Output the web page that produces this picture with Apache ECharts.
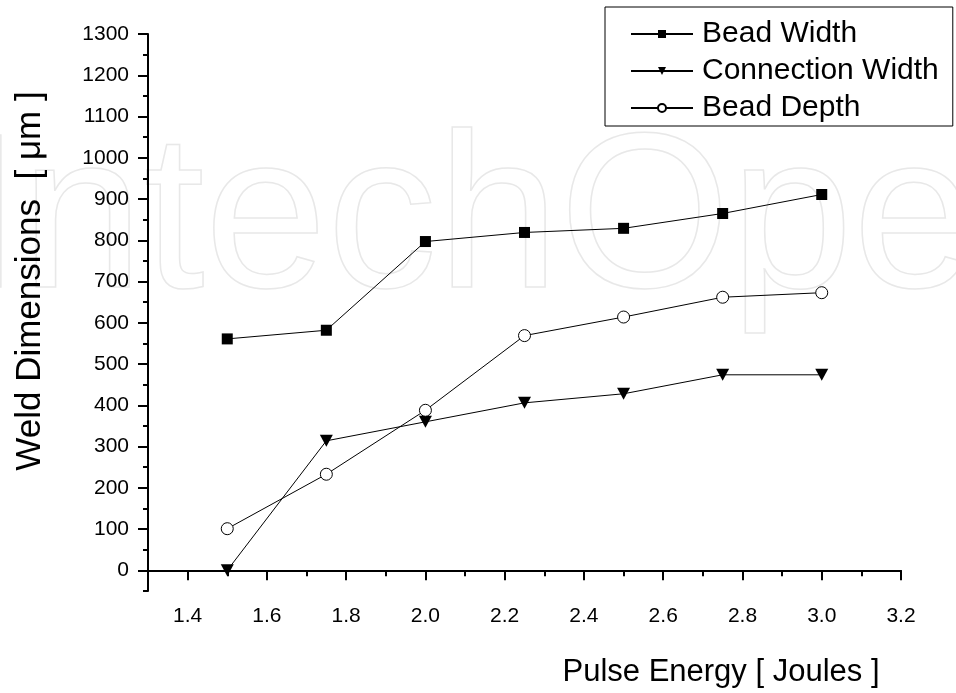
<!DOCTYPE html>
<html><head><meta charset="utf-8">
<script src="https://cdn.jsdelivr.net/npm/echarts@6/dist/echarts.min.js"></script>
<style>html,body{margin:0;padding:0;background:#fff}#c{width:956px;height:693px}</style>
</head><body><div id="c"></div>
<script>
const energy = [1.5, 1.75, 2.0, 2.25, 2.5, 2.75, 3.0];
const beadWidth = [561, 582, 797, 819, 829, 865, 911];
const connectionWidth = [0, 314, 360, 406, 428, 474, 474];
const beadDepth = [101, 233, 388, 569, 614, 662, 673];
const xTickLabels = [1.4, 1.6, 1.8, 2.0, 2.2, 2.4, 2.6, 2.8, 3.0, 3.2];
const xMinorTicks = [1.3, 1.5, 1.7, 1.9, 2.1, 2.3, 2.5, 2.7, 2.9, 3.1];
const yTickLabels = [0, 100, 200, 300, 400, 500, 600, 700, 800, 900, 1000, 1100, 1200, 1300];
const yMinorTicks = [-50, 50, 150, 250, 350, 450, 550, 650, 750, 850, 950, 1050, 1150, 1250];

const FONT = "'Liberation Sans', Arial, Helvetica, sans-serif";
const chart = echarts.init(document.getElementById('c'), null, {renderer: 'canvas'});
const pts = vals => energy.map((x, i) => [x, vals[i]]);
const axisBase = {
  type: 'value', min: 1.3, max: 3.2, splitLine: {show: false}
};
chart.setOption({
  animation: false,
  backgroundColor: '#fff',
  textStyle: {fontFamily: FONT},
  grid: {left: 148, right: 55, top: 34, bottom: 102},
  xAxis: [
    Object.assign({}, axisBase, {
      position: 'bottom',
      axisLine: {show: true, lineStyle: {color: '#000', width: 2}},
      axisTick: {show: true, customValues: xTickLabels, length: 10, lineStyle: {color: '#000', width: 2}},
      axisLabel: {customValues: xTickLabels, formatter: v => Number(v).toFixed(1), fontSize: 21, color: '#000', fontFamily: FONT, margin: 15}
    }),
    Object.assign({}, axisBase, {
      position: 'bottom',
      axisLine: {show: false},
      axisTick: {show: true, customValues: xMinorTicks, length: 6, lineStyle: {color: '#000', width: 2}},
      axisLabel: {show: false}
    })
  ],
  yAxis: [
    {
      type: 'value', min: -50, max: 1300, position: 'left', splitLine: {show: false},
      axisLine: {show: true, lineStyle: {color: '#000', width: 2}},
      axisTick: {show: true, customValues: yTickLabels, length: 10, lineStyle: {color: '#000', width: 2}},
      axisLabel: {customValues: yTickLabels, formatter: v => String(Math.round(v)), fontSize: 21, color: '#000', fontFamily: FONT, margin: 19}
    },
    {
      type: 'value', min: -50, max: 1300, position: 'left', splitLine: {show: false},
      axisLine: {show: false},
      axisTick: {show: true, customValues: yMinorTicks, length: 5, lineStyle: {color: '#000', width: 2}},
      axisLabel: {show: false}
    }
  ],
  legend: {
    orient: 'vertical', left: 605, top: 7,
    borderColor: '#000', borderWidth: 1,
    padding: [12, 14, 3, 25], itemGap: 7,
    itemWidth: 62, itemHeight: 10,
    selectedMode: false,
    textStyle: {fontSize: 30, color: '#000', fontFamily: FONT, lineHeight: 30, padding: [0, 0, 0, 4]},
    data: ['Bead Width', 'Connection Width', 'Bead Depth']
  },
  graphic: [
    {
      type: 'text', x: -40, y: 226, z: -10, silent: true,
      style: {text: 'IntechOpen', font: "220px " + FONT, fill: 'rgba(0,0,0,0)', stroke: '#e8e8e8', lineWidth: 1.5, verticalAlign: 'middle', align: 'left'}
    },
    {
      type: 'text', x: 30, y: 281, rotation: Math.PI / 2, z: 10,
      style: {text: 'Weld Dimensions  [ μm ]', font: "35px " + FONT, fill: '#000', align: 'center', verticalAlign: 'middle'}
    },
    {
      type: 'text', x: 721, y: 672, z: 10,
      style: {text: 'Pulse Energy [ Joules ]', font: "31px " + FONT, fill: '#000', align: 'center', verticalAlign: 'middle'}
    }
  ],
  series: [
    {
      name: 'Bead Width', type: 'line', data: pts(beadWidth),
      symbol: 'rect', symbolSize: 11,
      itemStyle: {color: '#000'}, lineStyle: {color: '#000', width: 1}
    },
    {
      name: 'Connection Width', type: 'line', data: pts(connectionWidth),
      symbol: 'triangle', symbolRotate: 180, symbolSize: [13, 12],
      itemStyle: {color: '#000'}, lineStyle: {color: '#000', width: 1}
    },
    {
      name: 'Bead Depth', type: 'line', data: pts(beadDepth),
      symbol: 'circle', symbolSize: 12,
      itemStyle: {color: '#fff', borderColor: '#000', borderWidth: 1}, lineStyle: {color: '#000', width: 1}
    }
  ]
});
</script></body></html>
